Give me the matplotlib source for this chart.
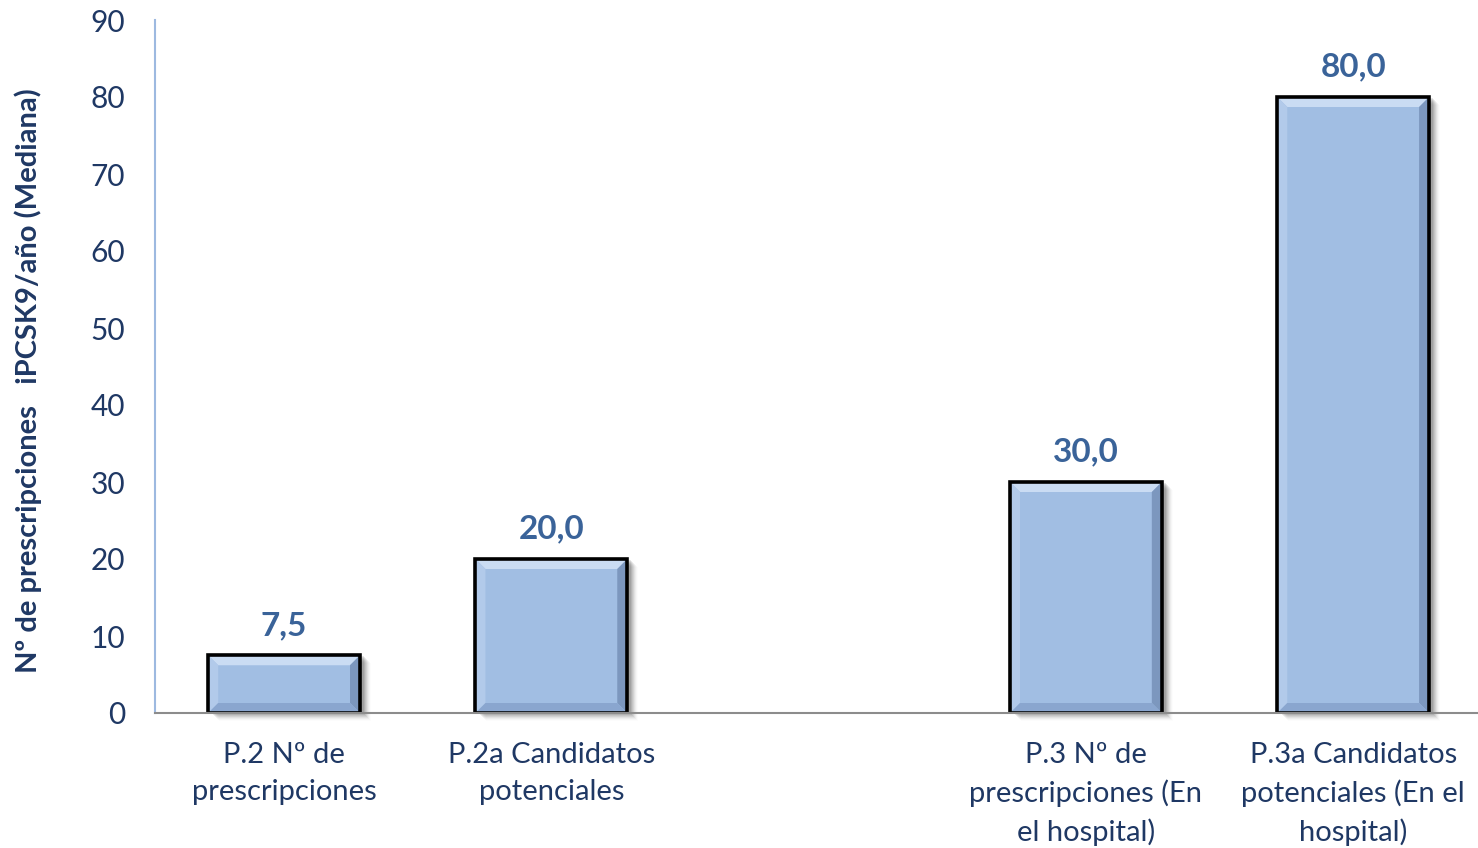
import matplotlib
matplotlib.use("Agg")
import matplotlib.pyplot as plt
from matplotlib.patches import Polygon, Rectangle
import numpy as np

plt.rcParams['font.family'] = ['Lato', 'DejaVu Sans']

categories = ["P.2 Nº de\nprescripciones", "P.2a Candidatos\npotenciales", "",
              "P.3 Nº de\nprescripciones (En\nel hospital)",
              "P.3a Candidatos\npotenciales (En el\nhospital)"]
values = [7.5, 20.0, None, 30.0, 80.0]
value_labels = ["7,5", "20,0", "", "30,0", "80,0"]
y_ticks = [0, 10, 20, 30, 40, 50, 60, 70, 80, 90]

navy = "#1F3864"
label_blue = "#3A6399"
bar_face = "#A1BEE3"

W, H = 1478, 848
fig = plt.figure(figsize=(W / 100, H / 100), dpi=100)
ax = fig.add_axes([155 / W, 1 - 713 / H, (W - 155) / W, (713 - 20) / H])

x = np.arange(len(categories))
x_lo, x_hi = -0.483, 4.467
ax.set_xlim(x_lo, x_hi)
ax.set_ylim(0, 90)

# size of one pixel in data units
px_x = (x_hi - x_lo) / (W - 155)
px_y = 90 / (713 - 20)

bw = 0.568
bev_x = 10 * px_x
bev_y = 10 * px_y

for xi, v, lab in zip(x, values, value_labels):
    if v is None:
        continue
    l, r = xi - bw / 2, xi + bw / 2
    # soft drop shadow
    for k, a in zip(range(1, 9), np.linspace(0.16, 0.02, 8)):
        ax.add_patch(Rectangle((l + (3 + k) * px_x, -k * px_y), bw, v,
                               facecolor="black", alpha=a * 0.6, lw=0,
                               zorder=1, clip_on=False))
    ax.bar(xi, v, width=bw, color=bar_face, edgecolor="none", zorder=2)
    # bevelled edges
    ax.add_patch(Polygon([(l, v), (r, v), (r - bev_x, v - bev_y), (l + bev_x, v - bev_y)],
                         closed=True, facecolor="#CADCF3", lw=0, zorder=3))
    ax.add_patch(Polygon([(l, 0), (l, v), (l + bev_x, v - bev_y), (l + bev_x, bev_y)],
                         closed=True, facecolor="#B2CAEA", lw=0, zorder=3))
    ax.add_patch(Polygon([(r, 0), (r, v), (r - bev_x, v - bev_y), (r - bev_x, bev_y)],
                         closed=True, facecolor="#7C97BE", lw=0, zorder=3))
    ax.add_patch(Polygon([(l, 0), (r, 0), (r - bev_x, bev_y), (l + bev_x, bev_y)],
                         closed=True, facecolor="#8AA6CF", lw=0, zorder=3))
    ax.add_patch(Rectangle((l, 0), bw, v, facecolor="none", edgecolor="black",
                           lw=2.6, zorder=4))
    ax.text(xi, v + 2.0, lab, ha="center", va="bottom", fontsize=24,
            fontweight="bold", color=label_blue)

ax.set_yticks(y_ticks)
ax.set_yticklabels([str(t) for t in y_ticks], fontsize=21.5, color=navy)
ax.tick_params(axis="y", length=0, pad=21.5)
ax.set_xticks(x)
ax.set_xticklabels(categories, fontsize=21, color=navy, linespacing=1.5)
ax.tick_params(axis="x", length=0, pad=21)

for s in ["top", "right"]:
    ax.spines[s].set_visible(False)
ax.spines["left"].set_color("#9DB9E0")
ax.spines["left"].set_linewidth(1.5)
ax.spines["bottom"].set_color("#8C8C8C")
ax.spines["bottom"].set_linewidth(1.5)
ax.spines["bottom"].set_zorder(5)

fig.text(28 / W, 1 - 381 / H, "Nº de prescripciones   iPCSK9/año (Mediana)",
         rotation=90, ha="center", va="center", fontsize=21,
         fontweight="bold", color=navy)

fig.savefig("out.png", dpi=100)
